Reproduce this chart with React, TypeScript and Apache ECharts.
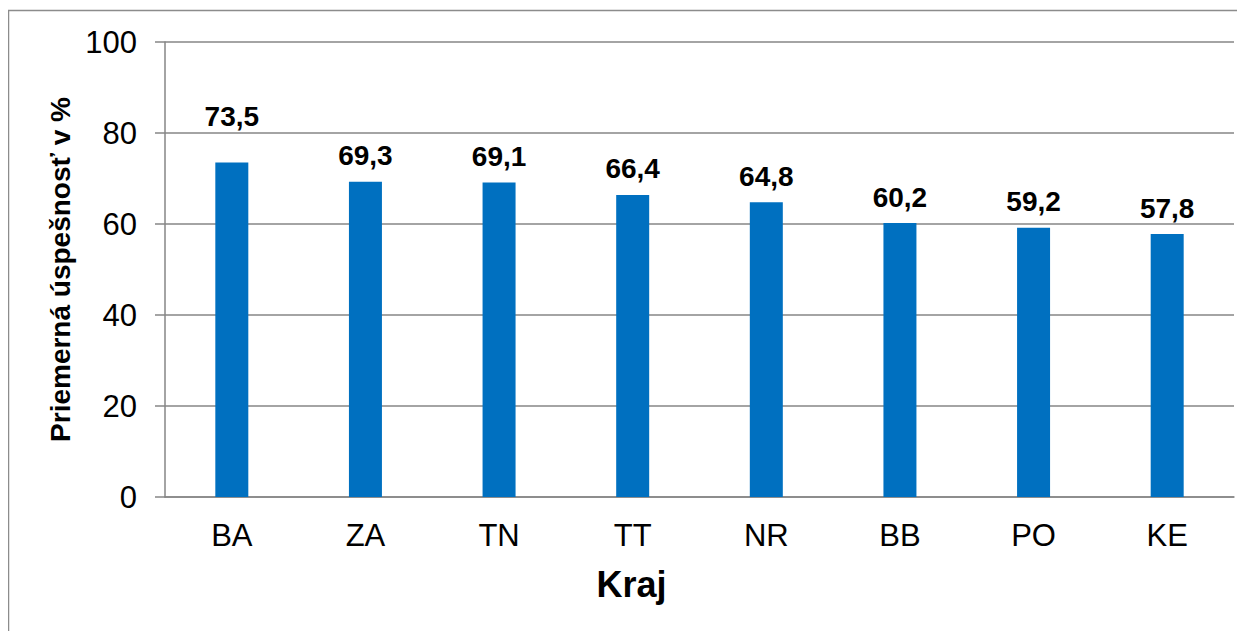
import React, { useEffect, useRef } from "react";
import * as echarts from "echarts";

const categories = ["BA", "ZA", "TN", "TT", "NR", "BB", "PO", "KE"];
const values = [73.5, 69.3, 69.1, 66.4, 64.8, 60.2, 59.2, 57.8];
const yAxisTitle = "Priemerná úspešnosť v %";
const xAxisTitle = "Kraj";

export default function App() {
  const ref = useRef<HTMLDivElement>(null);
  useEffect(() => {
    if (!ref.current) return;
    const chart = echarts.init(ref.current, undefined, { renderer: "svg" });
    const font = "Arial, 'Liberation Sans', sans-serif";
    chart.setOption({
      animation: false,
      textStyle: { fontFamily: font },
      graphic: [
        {
          type: "rect",
          shape: { x: 0.5, y: 2.5, width: 1400, height: 800 },
          style: { fill: "none", stroke: "#8c8c8c", lineWidth: 1.5 },
          silent: true,
        },
      ],
      grid: { left: 157, top: 34, right: 11, bottom: 134, containLabel: false },
      xAxis: {
        type: "category",
        data: categories,
        name: xAxisTitle,
        nameLocation: "middle",
        nameGap: 69,
        nameTextStyle: {
          fontSize: 36,
          fontWeight: "bold",
          color: "#000",
          fontFamily: font,
          padding: [0, 136, 0, 0],
        },
        axisLine: { lineStyle: { color: "#868686", width: 1.5 } },
        axisTick: { show: false },
        axisLabel: { fontSize: 31, color: "#000", margin: 23, fontFamily: font },
      },
      yAxis: {
        type: "value",
        min: 0,
        max: 100,
        interval: 20,
        name: yAxisTitle,
        nameLocation: "middle",
        nameGap: 90,
        nameTextStyle: { fontSize: 28, fontWeight: "bold", color: "#000", fontFamily: font },
        axisLine: { show: true, lineStyle: { color: "#868686", width: 1.5 } },
        axisTick: { show: true, length: 10, lineStyle: { color: "#868686", width: 1.5 } },
        axisLabel: { fontSize: 31, color: "#000", margin: 28, fontFamily: font },
        splitLine: { lineStyle: { color: "#868686", width: 1.5 } },
      },
      series: [
        {
          type: "bar",
          barWidth: 33,
          data: values.map((v, i) =>
            i === 0 ? { value: v, label: { offset: [0, -20] } } : { value: v }
          ),
          itemStyle: { color: "#0070C0" },
          label: {
            show: true,
            position: "top",
            distance: 12,
            fontSize: 28,
            fontWeight: "bold",
            color: "#000",
            fontFamily: font,
            formatter: (p: any) => String(p.value).replace(".", ","),
          },
        },
      ],
    });
    return () => chart.dispose();
  }, []);
  return <div ref={ref} style={{ width: 1237, height: 623 }} />;
}
